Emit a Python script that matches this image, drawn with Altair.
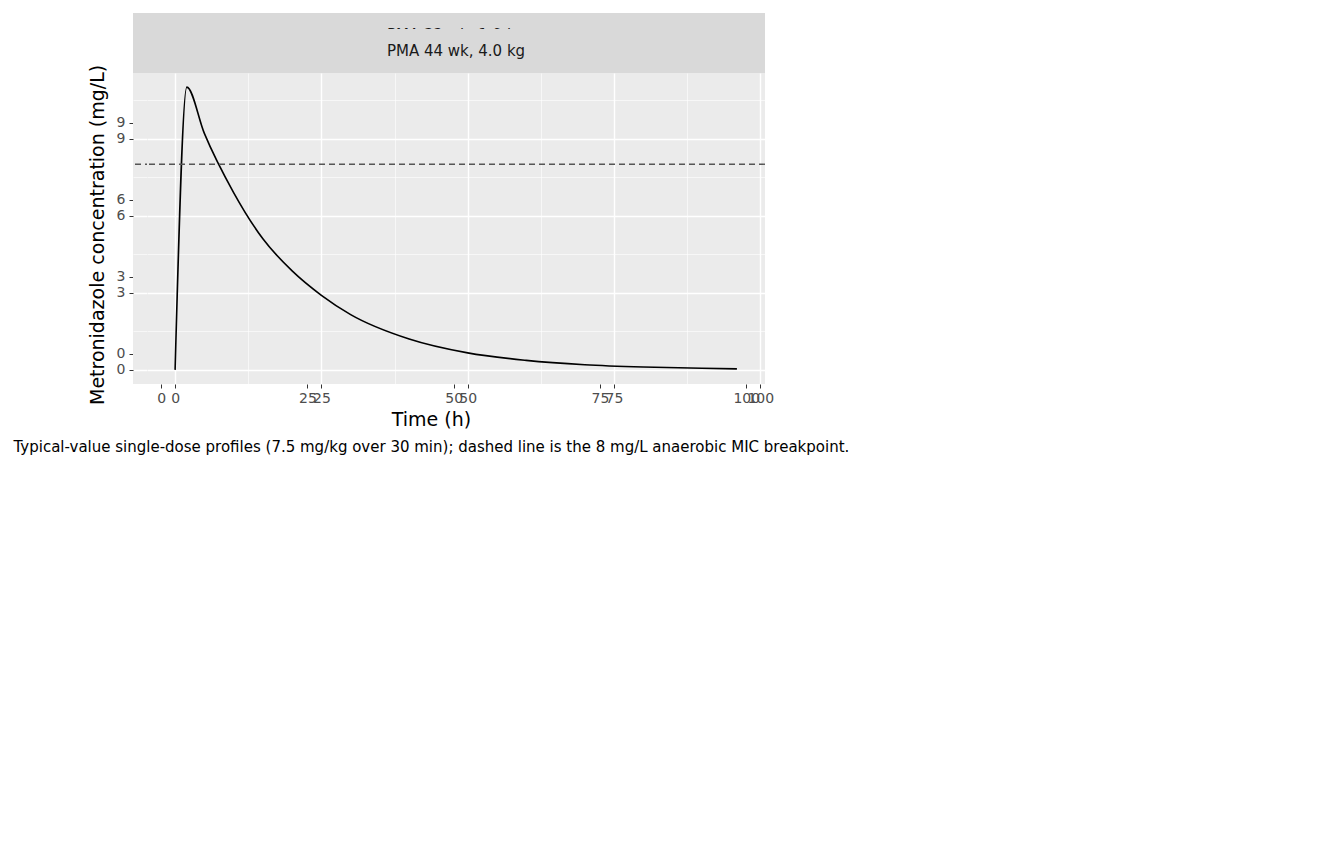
import pandas as pd
import altair as alt

times = [0, 2, 5, 10, 15, 20, 25, 30, 40, 50, 60, 70, 80, 90, 96]
panels = ["PMA 26 wk, 0.9 kg", "PMA 32 wk, 1.9 kg", "PMA 38 wk, 2.9 kg", "PMA 44 wk, 4.0 kg"]
conc_26 = [0, 8.25, 7.6, 6.7, 5.95, 5.3, 4.75, 4.2, 3.35, 2.7, 2.15, 1.7, 1.35, 1.1, 0.95]
conc_32 = [0, 9.4, 8.1, 6.4, 5.0, 3.95, 3.1, 2.45, 1.55, 0.95, 0.6, 0.38, 0.24, 0.15, 0.1]
conc_38 = [0, 10.3, 8.8, 6.7, 5.1, 3.9, 3.0, 2.3, 1.35, 0.78, 0.45, 0.27, 0.15, 0.09, 0.06]
conc_44 = [0, 11.0, 9.2, 6.9, 5.1, 3.85, 2.9, 2.15, 1.2, 0.66, 0.37, 0.2, 0.11, 0.06, 0.04]
mic = 8
caption = ("Typical-value single-dose profiles (7.5 mg/kg over 30 min); "
           "dashed line is the 8 mg/L anaerobic MIC breakpoint.")

series = [conc_26, conc_32, conc_38, conc_44]
W, H, STRIP = 618, 311, 44
FONT = "DejaVu Sans"


def panel(label, conc, show_x, show_y):
    d = pd.DataFrame({"time": times, "conc": conc})
    major_x = "datum.value % 25 === 0"
    major_y = "datum.value % 3 === 0"
    x_axis = alt.Axis(
        values=[0, 12.5, 25, 37.5, 50, 62.5, 75, 87.5, 100],
        title=None, labels=show_x, ticks=show_x, domain=False,
        labelExpr=f"{major_x} ? datum.label : ''",
        gridColor="white", labelPadding=3,
        gridWidth={"condition": {"test": major_x, "value": 1.4}, "value": 0.6},
        tickSize={"condition": {"test": major_x, "value": 4}, "value": 0},
        tickColor="#333333", labelColor="#4d4d4d", labelFontSize=14, labelFont=FONT,
    )
    y_axis = alt.Axis(
        values=[0, 1.5, 3, 4.5, 6, 7.5, 9, 10.5],
        title=None, labels=show_y, ticks=show_y, domain=False,
        labelExpr=f"{major_y} ? datum.label : ''",
        gridColor="white", labelPadding=4,
        gridWidth={"condition": {"test": major_y, "value": 1.4}, "value": 0.6},
        tickSize={"condition": {"test": major_y, "value": 4}, "value": 0},
        tickColor="#333333", labelColor="#4d4d4d", labelFontSize=14, labelFont=FONT,
    )
    base = alt.Chart(d)
    line = base.mark_line(color="black", strokeWidth=1.6, clip=True,
                          interpolate="monotone").encode(
        x=alt.X("time:Q", axis=x_axis, scale=alt.Scale(domain=[-4.8, 100.8], nice=False, zero=False)),
        y=alt.Y("conc:Q", axis=y_axis, scale=alt.Scale(domain=[-0.55, 11.55], nice=False, zero=False)),
    )
    rule = alt.Chart(pd.DataFrame({"mic": [mic]})).mark_rule(
        color="#555555", strokeDash=[6, 4], strokeWidth=1.4
    ).encode(y="mic:Q")
    plot = alt.layer(line, rule).properties(
        width=W, height=H, view=alt.ViewBackground(fill="#ebebeb", stroke=None)
    )
    strip = alt.Chart(pd.DataFrame({"label": [label]})).mark_text(
        font=FONT, fontSize=15, color="#1a1a1a"
    ).encode(text="label:N").properties(
        width=W, height=STRIP, view=alt.ViewBackground(fill="#d9d9d9", stroke=None)
    )
    return alt.vconcat(strip, plot, spacing=0)


row1 = alt.hconcat(panel(panels[0], series[0], False, True),
                   panel(panels[1], series[1], False, False), spacing=14, bounds="flush")
row2 = alt.hconcat(panel(panels[2], series[2], True, True),
                   panel(panels[3], series[3], True, False), spacing=14, bounds="flush")

grid = alt.vconcat(row1, row2, spacing=16, bounds="flush").properties(
    title=alt.TitleParams("Metronidazole concentration (mg/L)", orient="left",
                          font=FONT, fontSize=19, fontWeight="normal", color="black", offset=8)
)
mid = alt.vconcat(grid).properties(
    title=alt.TitleParams("Time (h)", orient="bottom", font=FONT, fontSize=19,
                          fontWeight="normal", color="black", offset=6, anchor="middle")
)
chart = alt.vconcat(mid).properties(
    title=alt.TitleParams(caption, orient="bottom", anchor="middle", font=FONT, fontSize=15,
                          fontWeight="normal", color="black", offset=10)
).configure_view(stroke=None).configure_concat(spacing=0)

chart.save("out.html", embed_options={"renderer": "svg", "actions": False})
